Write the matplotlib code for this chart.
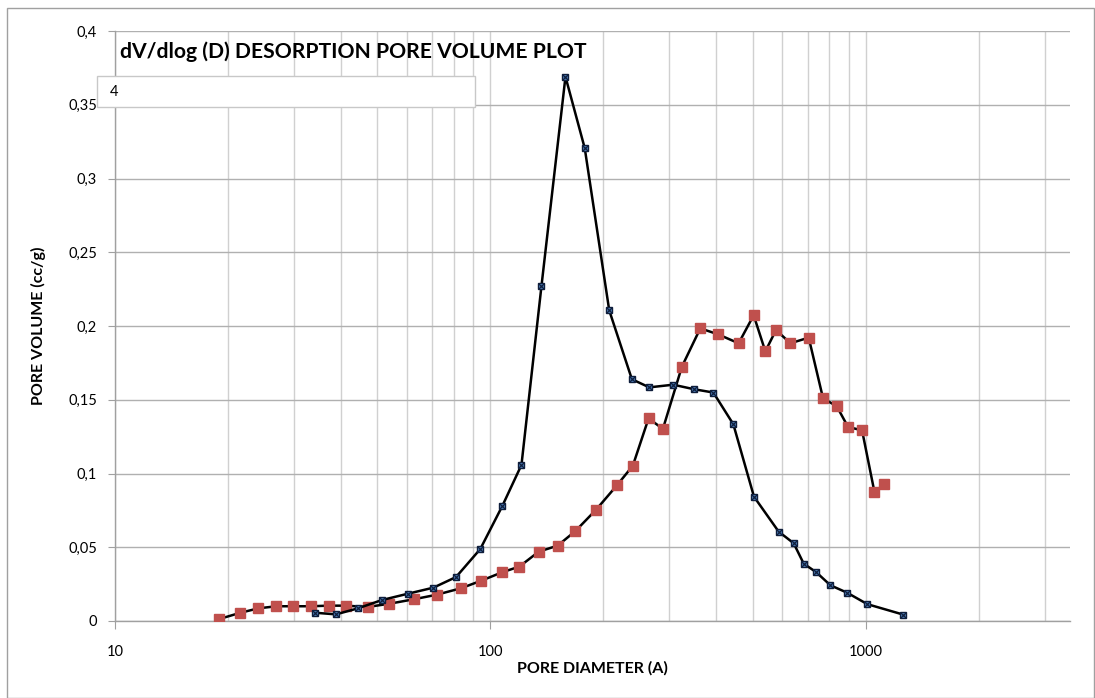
import matplotlib
matplotlib.use("Agg")
import matplotlib.pyplot as plt
from matplotlib.ticker import FuncFormatter, FixedLocator, NullFormatter
from matplotlib.patches import Rectangle

plt.rcParams['font.family'] = ['Lato', 'DejaVu Sans']

# Series 1 (blue x-square markers)
blue_d = [34.1, 38.8, 44.4, 51.4, 60.3, 70.5, 81.0, 94.0, 107.6, 121, 136.8, 158.5,
          178.4, 207.3, 238.2, 265.0, 307.0, 349.3, 392.6, 443.8, 503.7, 586.1,
          642.7, 683.3, 738.6, 805.2, 891.7, 1010, 1260]
blue_v = [0.0056, 0.0045, 0.0086, 0.0142, 0.0185, 0.0226, 0.0298, 0.0488, 0.078,
          0.1058, 0.2271, 0.369, 0.3205, 0.2106, 0.1639, 0.1584, 0.1602, 0.1571,
          0.1549, 0.1334, 0.0843, 0.0606, 0.0527, 0.0389, 0.033, 0.0242, 0.0192,
          0.0114, 0.0043]

# Series 2 (red squares)
red_d = [18.87, 21.59, 24.11, 26.92, 29.71, 33.26, 37.05, 41.23, 47.08, 53.79,
         62.43, 71.9, 83.5, 94.5, 107.4, 119.5, 134.5, 151.1, 168.5, 191.3, 217.2,
         239.6, 263.9, 288.1, 323.7, 362.4, 403.7, 458.5, 502.8, 540.1, 576.6,
         629.8, 704.7, 769.4, 837, 897.2, 977.5, 1055, 1119]
red_v = [0.0012, 0.0056, 0.0086, 0.01, 0.01, 0.01, 0.0104, 0.0104, 0.0095, 0.0117,
         0.0147, 0.0178, 0.0222, 0.0273, 0.033, 0.0369, 0.047, 0.0511, 0.061,
         0.0755, 0.0919, 0.1053, 0.1374, 0.1302, 0.1724, 0.1984, 0.1944, 0.1883,
         0.2073, 0.1828, 0.1973, 0.1883, 0.1921, 0.151, 0.1456, 0.1315, 0.1293,
         0.0873, 0.0927]

y_ticks = [0, 0.05, 0.1, 0.15, 0.2, 0.25, 0.3, 0.35, 0.4]
x_major = [10, 100, 1000]
x_minor = [20, 30, 40, 50, 60, 70, 80, 90, 200, 300, 400, 500, 600, 700, 800, 900,
           2000, 3000]

title = "dV/dlog (D) DESORPTION PORE VOLUME PLOT"
legend_text = "4"

W, H = 1095, 698
fig = plt.figure(figsize=(W / 100, H / 100), dpi=100)
fig.patch.set_facecolor('white')

# outer chart border
fig.add_artist(Rectangle((7 / W, 0), (W - 8) / W, (H - 8) / H, transform=fig.transFigure,
                         fill=False, edgecolor='#a0a0a0', linewidth=1.0, zorder=0))

ax = fig.add_axes([115 / W, 1 - 621 / H, (1070 - 115) / W, (621 - 31) / H])
ax.set_xscale('log')
ax.set_xlim(10, 3500)
ax.set_ylim(0, 0.4)

ax.xaxis.set_major_locator(FixedLocator(x_major))
ax.xaxis.set_minor_locator(FixedLocator(x_minor))
ax.xaxis.set_minor_formatter(NullFormatter())
ax.xaxis.set_major_formatter(FuncFormatter(lambda v, p: f"{int(round(v))}"))
ax.set_yticks(y_ticks)
ax.yaxis.set_major_formatter(FuncFormatter(
    lambda v, p: "0" if v == 0 else (f"{v:.2f}".rstrip('0')).replace('.', ',')))

ax.grid(True, which='major', axis='y', color='#b0b0b0', linewidth=1.0)
ax.grid(True, which='both', axis='x', color='#d0d0d0', linewidth=1.0)
ax.set_axisbelow(True)

for s in ['top', 'right']:
    ax.spines[s].set_visible(False)
for s in ['left', 'bottom']:
    ax.spines[s].set_color('#a0a0a0')
    ax.spines[s].set_linewidth(1.0)

ax.tick_params(axis='y', which='major', direction='out', length=5, color='#a0a0a0',
               labelsize=10.5, pad=8, labelcolor='black')
ax.tick_params(axis='x', which='major', direction='out', length=6, color='#a0a0a0',
               labelsize=10.5, pad=11, labelcolor='black')
ax.tick_params(axis='x', which='minor', length=0)

ax.plot(red_d, red_v, color='black', linewidth=1.8, marker='s', markersize=7.5,
        markerfacecolor='#c0504d', markeredgecolor='#c0504d', zorder=3)
ax.plot(blue_d, blue_v, color='black', linewidth=1.8, marker='s', markersize=5,
        markerfacecolor='#4f81bd', markeredgecolor='#0f1e3c', markeredgewidth=1.0, zorder=4)
ax.plot(blue_d, blue_v, linestyle='none', marker='x', markersize=3.8,
        markeredgecolor='#0f1e3c', markeredgewidth=0.9, zorder=5)

ax.set_xlabel("PORE DIAMETER (A)", fontsize=11.5, fontweight='bold', labelpad=2)
ax.set_ylabel("PORE VOLUME (cc/g)", fontsize=11.5, fontweight='bold', labelpad=16)

fig.text(120 / W, 1 - 52 / H, title, fontsize=15.2, fontweight='bold',
         ha='left', va='center', zorder=10)

fig.add_artist(Rectangle((97 / W, 1 - 107 / H), (475 - 97) / W, 31 / H,
                         transform=fig.transFigure, facecolor='white',
                         edgecolor='#c8c8c8', linewidth=1.0, zorder=20))
fig.text(110 / W, 1 - 92 / H, legend_text, fontsize=10.5, ha='left', va='center',
         zorder=21)

fig.savefig("out.png", dpi=100)
